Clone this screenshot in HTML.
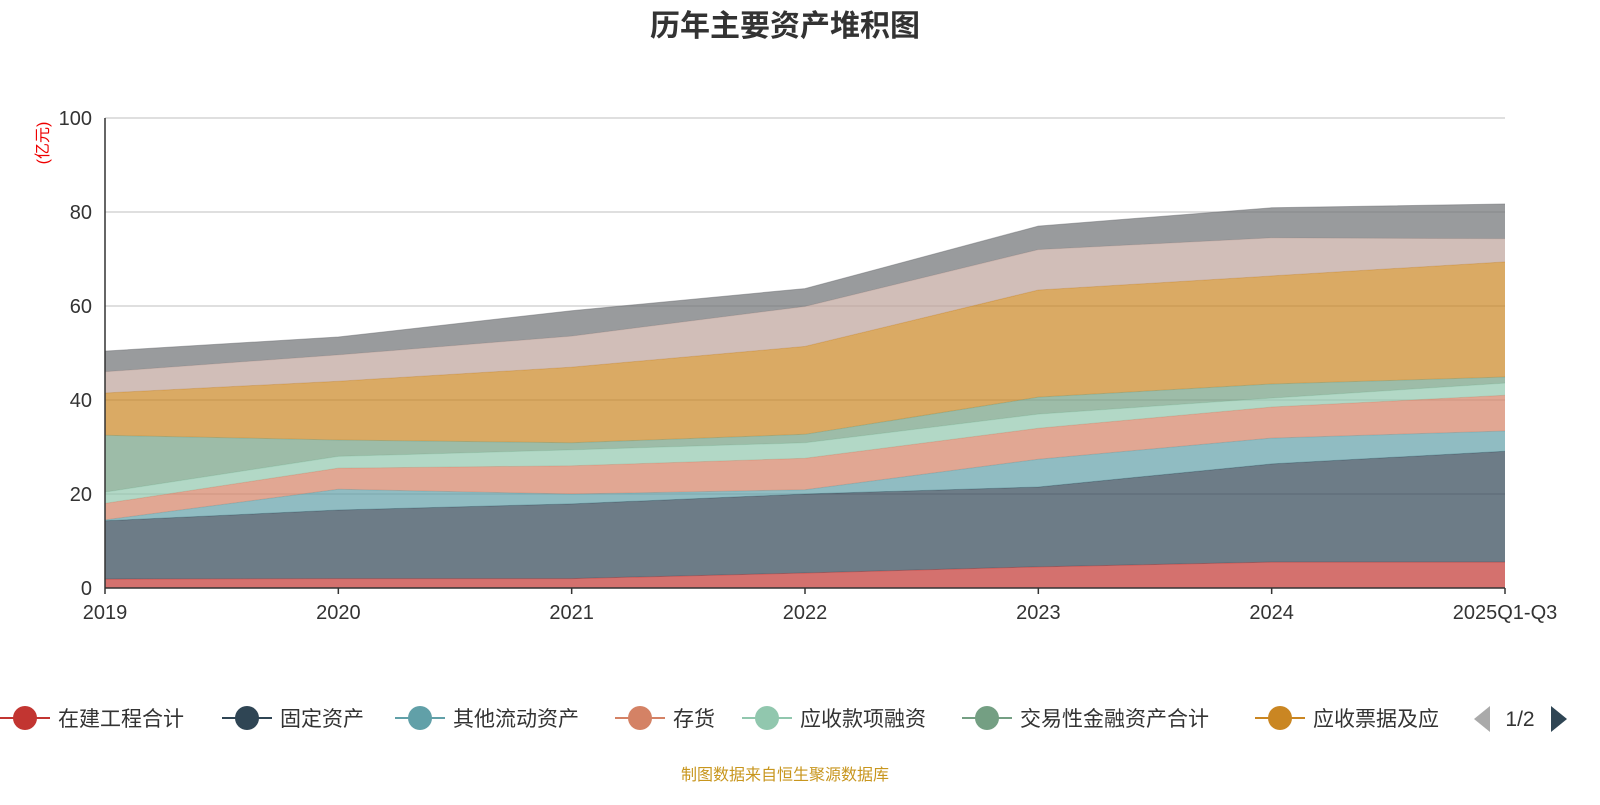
<!DOCTYPE html>
<html><head><meta charset="utf-8">
<style>
body{margin:0;background:#fff;width:1600px;height:800px;overflow:hidden;font-family:"Liberation Sans","Noto Sans CJK SC",sans-serif;}
</style></head>
<body>
<svg id="chart" width="1600" height="800" xmlns="http://www.w3.org/2000/svg">
<text x="785" y="36" text-anchor="middle" font-size="30" font-weight="bold" fill="#333" font-family="Liberation Sans, Noto Sans CJK SC, sans-serif">历年主要资产堆积图</text>
<text transform="translate(48,143) rotate(-90)" text-anchor="middle" font-size="16" fill="#e00" font-family="Liberation Sans, Noto Sans CJK SC, sans-serif">(亿元)</text>
<g id="grid"></g>
<g id="areas"></g>
<g id="axes"></g>
<g id="legend"></g>
<text x="785" y="780" text-anchor="middle" font-size="16" fill="#c8961e" font-family="Liberation Sans, Noto Sans CJK SC, sans-serif">制图数据来自恒生聚源数据库</text>
</svg>
<script>
const categories = ["2019","2020","2021","2022","2023","2024","2025Q1-Q3"];
const seriesNames = ["在建工程合计","固定资产","其他流动资产","存货","应收款项融资","交易性金融资产合计","应收票据及应收账款","货币资金","其他"];
const s0 = [1.9,2.0,2.0,3.2,4.5,5.5,5.5];
const s1 = [12.4,14.6,15.9,16.8,17.0,20.9,23.6];
const s2 = [0.2,4.4,2.1,0.9,5.9,5.5,4.3];
const s3 = [3.5,4.5,6.0,6.7,6.6,6.6,7.6];
const s4 = [2.4,2.5,3.4,3.3,3.0,1.9,2.6];
const s5 = [12.1,3.5,1.5,1.8,3.6,3.0,1.3];
const s6 = [9.0,12.5,16.1,18.7,22.8,23.0,24.5];
const s7 = [4.5,5.6,6.6,8.5,8.6,8.1,4.9];
const s8 = [4.4,3.8,5.4,3.8,5.0,6.4,7.4];
const yTicks = [0,20,40,60,80,100];
const allSeries = [s0,s1,s2,s3,s4,s5,s6,s7,s8];
const colors = ["#c23531","#2f4554","#61a0a8","#d48265","#91c7ae","#749f83","#ca8622","#bda29a","#6e7074"];
const NS="http://www.w3.org/2000/svg";
const X0=105,X1=1505,Y0=588,Y1=118;
function xs(i){return X0+(X1-X0)*i/(categories.length-1);}
function ys(v){return Y0-(Y0-Y1)*v/100;}
function mk(tag,attrs,parent){const e=document.createElementNS(NS,tag);for(const k in attrs)e.setAttribute(k,attrs[k]);parent.appendChild(e);return e;}
const grid=document.getElementById('grid'),areas=document.getElementById('areas'),axes=document.getElementById('axes'),legend=document.getElementById('legend');
yTicks.forEach(t=>{
  if(t>0){const l=mk('line',{x1:X0,x2:X1,y1:ys(t),y2:ys(t),stroke:'#ccc','stroke-width':1.2},grid);
  
  }
  const tx=mk('text',{x:92,y:ys(t)+7,'text-anchor':'end','font-size':20,fill:'#333'},axes);tx.textContent=t;
  
  
});
let base=categories.map(()=>0);
allSeries.forEach((s,k)=>{
  const top=base.map((b,i)=>b+s[i]);
  let d='';
  top.forEach((v,i)=>{d+=(i?'L':'M')+xs(i)+','+ys(v);});
  for(let i=top.length-1;i>=0;i--)d+='L'+xs(i)+','+ys(base[i]);
  const p=mk('path',{d:d+'Z',fill:colors[k],'fill-opacity':0.7,stroke:'none'},areas);
  
  
  let ld='';top.forEach((v,i)=>{ld+=(i?'L':'M')+xs(i)+','+ys(v);});
  const ln=mk('path',{d:ld,fill:'none',stroke:colors[k],'stroke-opacity':0.5,'stroke-width':1},areas);
  
  
  base=top;
});
const ya=mk('line',{x1:X0,x2:X0,y1:Y1,y2:Y0,stroke:'#333','stroke-width':1.5},axes);


const xa=mk('line',{x1:X0,x2:X1,y1:Y0,y2:Y0,stroke:'#333','stroke-width':1.5},axes);


categories.forEach((c,i)=>{
  const tk=mk('line',{x1:xs(i),x2:xs(i),y1:Y0,y2:Y0+6,stroke:'#333','stroke-width':1.5},axes);
  
  
  const t=mk('text',{x:xs(i),y:619,'text-anchor':'middle','font-size':20,fill:'#333'},axes);t.textContent=c;
  
  
});
const legX=[0,222,395,615,742,962,1255];
const legLabels=["在建工程合计","固定资产","其他流动资产","存货","应收款项融资","交易性金融资产合计","应收票据及应"];
legLabels.forEach((lab,i)=>{
  const g=mk('g',{},legend);
  
  
  mk('line',{x1:legX[i],x2:legX[i]+50,y1:718,y2:718,stroke:colors[i],'stroke-width':2},g);
  mk('circle',{cx:legX[i]+25,cy:718,r:12,fill:colors[i]},g);
  const t=mk('text',{x:legX[i]+58,y:726,'font-size':21,fill:'#333'},g);t.textContent=lab;
});
const pl=mk('path',{d:'M1490,706 L1490,732 L1474,719 Z',fill:'#aaa'},legend);


const pt=mk('text',{x:1520,y:726,'text-anchor':'middle','font-size':21,fill:'#333'},legend);pt.textContent='1/2';


const pr=mk('path',{d:'M1551,706 L1551,732 L1567,719 Z',fill:'#2f4554'},legend);


</script>
</body></html>
